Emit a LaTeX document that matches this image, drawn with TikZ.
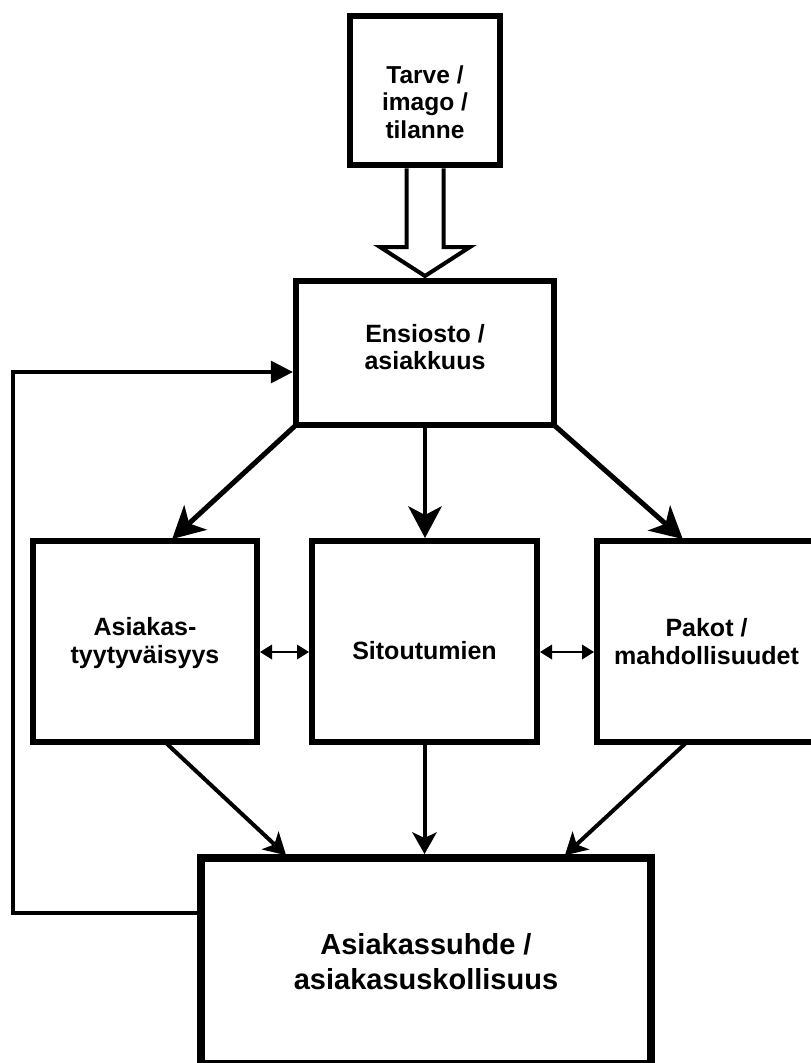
\documentclass[tikz,border=0pt]{standalone}
\usepackage{fontspec}
\setmainfont{Liberation Sans}
\usetikzlibrary{arrows.meta,calc}
\begin{document}
\begin{tikzpicture}[x=1pt,y=-1pt,
  box/.style={draw, rectangle, line width=6.5pt, inner sep=0pt, outer sep=0pt},
  bigbox/.style={box, line width=8pt},
  lbl/.style={align=center, inner sep=0pt, font=\bfseries\fontsize{25}{27.5}\selectfont},
  biglbl/.style={lbl, font=\bfseries\fontsize{29}{35}\selectfont},
  hollow/.style={draw, line width=4pt, line join=miter},
  bigarrow/.style={line width=5pt, -{Stealth[length=32pt,width=34pt,inset=9pt,line width=0pt]}},
  smallarrow/.style={line width=4pt, -{Stealth[length=22pt,width=25pt,inset=6pt,line width=0pt]}},
  backarrow/.style={line width=4pt, line join=miter, -{Triangle[length=22pt,width=23pt,line width=0pt]}},
  twoway/.style={line width=1.5pt, {Triangle[length=12pt,width=15pt,line width=0pt]}-{Triangle[length=12pt,width=15pt,line width=0pt]}, shorten <=3pt, shorten >=3pt}]

\useasboundingbox (0,0) rectangle (811,1063);
\fill[white] (0,0) rectangle (811,1063);
\clip (0,0) rectangle (811,1063);

% boxes
\node[box, minimum width=150pt, minimum height=149pt] (tarve) at (425,90.5) {};
\node[box, minimum width=258pt, minimum height=144pt] (ens) at (425,353) {};
\node[box, minimum width=224pt, minimum height=201pt] (tyy) at (145,641.5) {};
\node[box, minimum width=225pt, minimum height=201pt] (sit) at (424.5,641.5) {};
\node[box, minimum width=219pt, minimum height=201pt] (pak) at (706.5,641.5) {};
\node[bigbox, minimum width=450pt, minimum height=206pt] (asi) at (426,961) {};

% texts
\node[lbl, font=\bfseries\fontsize{24.5}{27.5}\selectfont] (tarveT) at (425,102) {Tarve /\\imago /\\tilanne};
\node[lbl, font=\bfseries\fontsize{25}{27}\selectfont] (ensT) at (425,347.5) {Ensiosto /\\asiakkuus};
\node[lbl] (tyyT) at (145,643) {Asiakas-\\tyytyväisyys};
\node[lbl] (sitT) at (424.5,650.5) {Sitoutumien};
\node[lbl] (pakT) at (706.5,641.5) {Pakot /\\mahdollisuudet};
\node[biglbl] (asiT) at (426,961.5) {Asiakassuhde /\\asiakasuskollisuus};

% hollow arrow from the top box
\coordinate (tip) at ([yshift=5]ens.north);
\draw[hollow] ([xshift=-18.5,yshift=-3.25]tarve.south) -- ($(tip)+(-18.5,-29)$)
  -- ($(tip)+(-45,-29)$) -- (tip) -- ($(tip)+(45,-29)$)
  -- ($(tip)+(18.5,-29)$) -- ([xshift=18.5,yshift=-3.25]tarve.south);

% arrows from Ensiosto
\draw[bigarrow, shorten >=3pt] (ens.south west) -- ([xshift=25]tyy.north);
\draw[bigarrow, line width=4pt, shorten >=3pt] (ens.south) -- (ens.south |- sit.north);
\draw[bigarrow, shorten >=3pt] (ens.south east) -- ([xshift=-21.5]pak.north);

% two-way arrows between the middle boxes
\draw[twoway] ([yshift=-10.5]tyy.east) -- ([yshift=-10.5]sit.west);
\draw[twoway] ([yshift=-10.5]sit.east) -- ([yshift=-10.5]pak.west);

% arrows into the bottom box
\draw[smallarrow, shorten >=4pt] ([xshift=20]tyy.south) -- ([xshift=-137]asi.north);
\draw[smallarrow, shorten >=4pt] (sit.south) -- (sit.south |- asi.north);
\draw[smallarrow, shorten >=4pt] ([xshift=-19.5]pak.south) -- ([xshift=136]asi.north);

% feedback loop
\coordinate (loop) at (13,640);
\draw[backarrow, shorten >=3.25pt] ([yshift=48]asi.west) -| (loop) |- ([yshift=-19]ens.west);
\end{tikzpicture}
\end{document}
